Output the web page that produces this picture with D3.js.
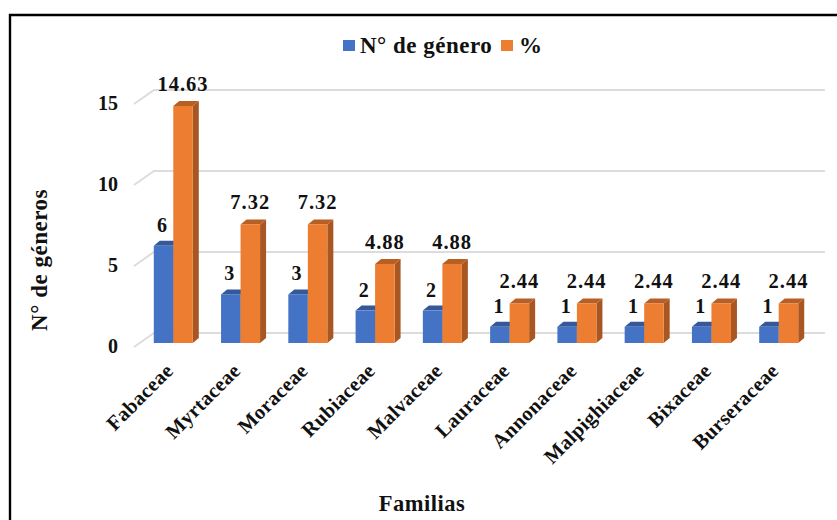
<!DOCTYPE html>
<html>
<head>
<meta charset="utf-8">
<script src="https://cdnjs.cloudflare.com/ajax/libs/d3/7.8.5/d3.min.js"></script>
<style>
  html, body { margin: 0; padding: 0; background: #fff; }
  svg { display: block; }
  text { font-family: "Liberation Serif", serif; font-weight: bold; fill: #111; }
</style>
</head>
<body>
<div id="graph"></div>
<script>
'use strict'

const familias = ['Fabaceae', 'Myrtaceae', 'Moraceae', 'Rubiaceae', 'Malvaceae',
  'Lauraceae', 'Annonaceae', 'Malpighiaceae', 'Bixaceae', 'Burseraceae']
const generos = [6, 3, 3, 2, 2, 1, 1, 1, 1, 1]
const porcentaje = [14.63, 7.32, 7.32, 4.88, 4.88, 2.44, 2.44, 2.44, 2.44, 2.44]
const porcentajeLabels = ['14.63', '7.32', '7.32', '4.88', '4.88', '2.44', '2.44', '2.44', '2.44', '2.44']
const yTicks = [0, 5, 10, 15]
const seriesNames = ['N° de género', '%']

const colors = { blue: '#4472c4', blueTop: '#34589a', orange: '#ed7d31', orangeSide: '#a85722', orangeTop: '#b85f24', grid: '#dcdcdc' }

let cw = 837, ch = 520
let depth = { x: 6, y: 5 }
let floor = { x: 20, y: 14 }

let svg = d3.select('#graph').append('svg')
  .attr('width', cw)
  .attr('height', ch)

// frame of the pasted chart, open at the bottom
svg.append('path')
  .attr('d', `M10,520V15H${cw}`)
  .attr('fill', 'none')
  .attr('stroke', '#000')
  .attr('stroke-width', 2.4)

let x = d3.scaleBand()
  .domain(familias)
  .range([133.6, 818.4])
  .paddingInner(0.42)
  .paddingOuter(0.3)

let inner = d3.scaleBand()
  .domain(seriesNames)
  .range([0, x.bandwidth()])

let y = d3.scaleLinear()
  .domain([0, 15])
  .range([347, 104])

// back wall grid lines + the slanted floor part
let grid = svg.append('g').attr('class', 'grid')
yTicks.forEach(t => {
  grid.append('path')
    .attr('d', `M134,${y(t)}l${floor.x},${-floor.y}H825`)
    .attr('fill', 'none')
    .attr('stroke', colors.grid)
    .attr('stroke-width', 2)
})

let yAxis = svg.append('g').attr('class', 'y-axis')
yAxis.selectAll('text')
  .data(yTicks)
  .join('text')
  .attr('x', 118)
  .attr('y', d => y(d) - 1)
  .attr('dy', '0.35em')
  .attr('text-anchor', 'end')
  .attr('font-size', 20)
  .text(d => d)

const base = 343

function bar(g, bx, bw, value, front, side, top) {
  let ty = base - (y(0) - y(value))
  g.append('path')
    .attr('d', `M${bx + bw},${ty}l${depth.x},${-depth.y}V${base - depth.y}l${-depth.x},${depth.y}Z`)
    .attr('fill', side)
  g.append('path')
    .attr('d', `M${bx},${ty}l${depth.x},${-depth.y}h${bw}l${-depth.x},${depth.y}Z`)
    .attr('fill', top)
  g.append('rect')
    .attr('x', bx)
    .attr('y', ty)
    .attr('width', bw)
    .attr('height', base - ty)
    .attr('fill', front)
}

let bars = svg.append('g').attr('class', 'bars')
familias.forEach((f, i) => {
  let g = bars.append('g')
  let bx = x(f)
  bar(g, bx + inner(seriesNames[0]), inner.bandwidth(), generos[i], colors.blue, colors.blueTop, colors.blueTop)
  bar(g, bx + inner(seriesNames[1]), inner.bandwidth(), porcentaje[i], colors.orange, colors.orangeSide, colors.orangeTop)
})

let labels = svg.append('g').attr('class', 'labels')
familias.forEach((f, i) => {
  labels.append('text')
    .attr('x', x(f) + inner(seriesNames[0]) + inner.bandwidth() / 2 - 1.5)
    .attr('y', base - (y(0) - y(generos[i])) - 14)
    .attr('text-anchor', 'middle')
    .attr('font-size', 20)
    .text(generos[i])
  labels.append('text')
    .attr('x', x(f) + inner(seriesNames[1]) + inner.bandwidth() / 2)
    .attr('y', base - (y(0) - y(porcentaje[i])) - 15)
    .attr('text-anchor', 'middle')
    .attr('font-size', 20.5)
    .attr('letter-spacing', 1)
    .text(porcentajeLabels[i])
})

// x axis labels rotated 45
svg.append('g').attr('class', 'x-axis')
  .selectAll('text')
  .data(familias)
  .join('text')
  .attr('transform', d => `translate(${x(d) + x.bandwidth() / 2 + 1}, 372) rotate(-45)`)
  .attr('text-anchor', 'end')
  .attr('font-size', 20.5)
  .attr('letter-spacing', 0.3)
  .text(d => d)

svg.append('text')
  .attr('transform', 'translate(47, 260) rotate(-90)')
  .attr('text-anchor', 'middle')
  .attr('font-size', 23)
  .attr('letter-spacing', 0.5)
  .text('N° de géneros')

svg.append('text')
  .attr('x', 422)
  .attr('y', 511)
  .attr('text-anchor', 'middle')
  .attr('font-size', 22.5)
  .attr('letter-spacing', 0.5)
  .text('Familias')

// legend
let legend = svg.append('g').attr('class', 'legend')
legend.append('rect').attr('x', 343).attr('y', 40).attr('width', 12).attr('height', 11).attr('fill', colors.blue)
legend.append('text').attr('x', 360).attr('y', 53).attr('font-size', 23).attr('letter-spacing', 0.5).text(seriesNames[0])
legend.append('rect').attr('x', 501).attr('y', 40).attr('width', 12).attr('height', 11).attr('fill', colors.orange)
legend.append('text').attr('x', 519).attr('y', 53).attr('font-size', 23).text(seriesNames[1])
</script>
</body>
</html>
